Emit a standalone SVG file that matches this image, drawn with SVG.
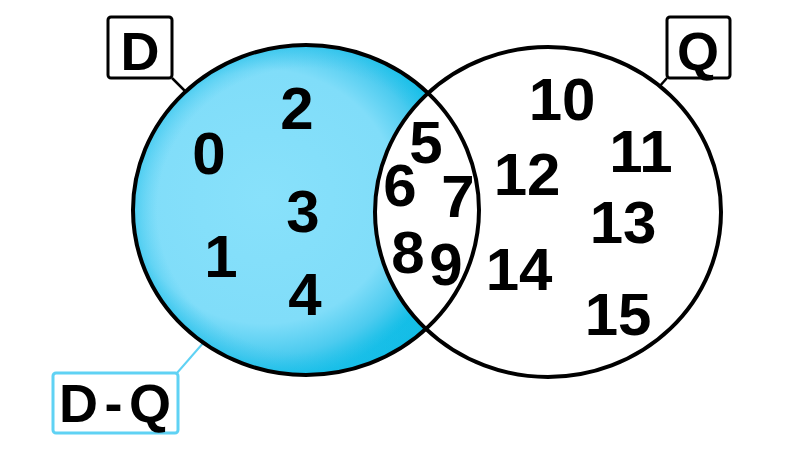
<svg xmlns="http://www.w3.org/2000/svg" width="800" height="460" viewBox="0 0 800 460">
  <style>
    .rim { fill: none; stroke: #000; stroke-width: 4; }
    .num { font-family: "Liberation Sans", Arial, sans-serif; font-weight: bold; font-size: 60px; fill: #000; text-anchor: middle; }
    .lbl { font-family: "Liberation Sans", Arial, sans-serif; font-weight: bold; font-size: 54px; fill: #000; text-anchor: middle; }
    .box { fill: #fff; stroke: #000; stroke-width: 3; }
    .boxdq { fill: #fff; stroke: #5fd2f4; stroke-width: 3; }
    .lead { stroke: #000; stroke-width: 2.5; fill: none; }
    .leaddq { stroke: #5fd2f4; stroke-width: 2; fill: none; }
  </style>
  <defs>
    <radialGradient id="blue" cx="0.38" cy="0.46" r="0.62">
      <stop offset="0" stop-color="#88e1fb"/>
      <stop offset="0.62" stop-color="#80ddf9"/>
      <stop offset="0.78" stop-color="#4ccbef"/>
      <stop offset="0.9" stop-color="#10bde6"/>
      <stop offset="1" stop-color="#00b8e2"/>
    </radialGradient>
    <radialGradient id="rimshade" cx="0.5" cy="0.5" r="0.5">
      <stop offset="0.86" stop-color="#3cc6ee" stop-opacity="0"/>
      <stop offset="1" stop-color="#20c0ea" stop-opacity="0.55"/>
    </radialGradient>
  </defs>
  <rect width="800" height="460" fill="#fff"/>

  <g id="connectors">
    <line class="lead" x1="172" y1="78" x2="186" y2="92"/>
    <line class="lead" x1="667" y1="78" x2="659" y2="87"/>
    <line class="leaddq" x1="177" y1="373" x2="204" y2="342"/>
  </g>

  <g id="set-D">
    <ellipse cx="306" cy="210" rx="173" ry="165" fill="url(#blue)"/>
    <ellipse cx="306" cy="210" rx="173" ry="165" fill="url(#rimshade)"/>
  </g>
  <g id="set-Q">
    <ellipse cx="548" cy="212" rx="173" ry="165" fill="#fff"/>
  </g>
  <g id="outlines">
    <ellipse class="rim" cx="306" cy="210" rx="173" ry="165"/>
    <ellipse class="rim" cx="548" cy="212" rx="173" ry="165"/>
  </g>

  <g id="label-D">
    <rect class="box" x="108" y="17" width="64" height="61" rx="3"/>
    <text class="lbl" x="140" y="70">D</text>
  </g>
  <g id="label-Q">
    <rect class="box" x="667" y="17" width="63" height="61" rx="3"/>
    <text class="lbl" x="698" y="70" font-size="60">Q</text>
  </g>
  <g id="label-DQ">
    <rect class="boxdq" x="53" y="373" width="125" height="60" rx="3"/>
    <text class="lbl" x="115" y="422" font-size="56" textLength="112" lengthAdjust="spacing">D-Q</text>
  </g>

  <g id="elements">
    <text class="num" x="209" y="174">0</text>
    <text class="num" x="297" y="129">2</text>
    <text class="num" x="303" y="232">3</text>
    <text class="num" x="221" y="277">1</text>
    <text class="num" x="305" y="315">4</text>
    <text class="num" x="426" y="163">5</text>
    <text class="num" x="400" y="206">6</text>
    <text class="num" x="458" y="217">7</text>
    <text class="num" x="408" y="273">8</text>
    <text class="num" x="446" y="285">9</text>
    <text class="num" x="562" y="120">10</text>
    <text class="num" x="641" y="172">11</text>
    <text class="num" x="527" y="195">12</text>
    <text class="num" x="623" y="243">13</text>
    <text class="num" x="519" y="290">14</text>
    <text class="num" x="618" y="335">15</text>
  </g>
</svg>
